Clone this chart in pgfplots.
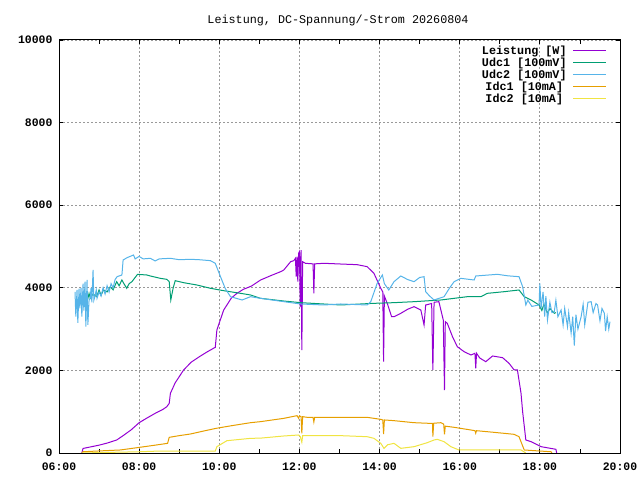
\documentclass[border=0pt]{standalone}
\usepackage{pgfplots}
\pgfplotsset{compat=1.18}
\usepackage{fontspec}
\setmainfont{Liberation Mono}
\definecolor{gpurple}{HTML}{9400D3}
\definecolor{ggreen}{HTML}{009E73}
\definecolor{gblue}{HTML}{56B4E9}
\definecolor{gorange}{HTML}{E69F00}
\definecolor{gyellow}{HTML}{F0E442}
\begin{document}
\begin{tikzpicture}
\useasboundingbox (0,0) rectangle (640bp,480bp);
\node[font=\fontsize{11.8}{12}\selectfont, anchor=center] at (338bp,459.5bp) {Leistung, DC-Spannung/-Strom 20260804};
\begin{axis}[
  at={(59bp,27bp)}, anchor=south west,
  scale only axis, width=561bp, height=413bp,
  xmin=6, xmax=20, ymin=0, ymax=10000,
  scaled y ticks=false,
  xtick={6,8,10,12,14,16,18,20},
  xticklabels={06:00,08:00,10:00,12:00,14:00,16:00,18:00,20:00},
  minor xtick={7,9,11,13,15,17,19},
  ytick={0,2000,4000,6000,8000,10000},
  yticklabels={0,2000,4000,6000,8000,10000},
  /pgf/number format/assume math mode=true,
  ticklabel style={font=\bfseries\fontsize{11.5}{12}\selectfont},
  yticklabel style={xshift=-3bp},
  xticklabel style={yshift=-6.5bp},
  major tick length=4bp, minor tick length=4bp,
  tick style={black, line width=0.8bp},
  axis line style={line width=1bp},
  grid=major,
  major grid style={draw=gray!80, dash pattern=on 1.5bp off 2.5bp, line width=0.8bp},
  legend plot pos=right,
  legend cell align=right,
  legend style={at={(0.9765,0.985)}, anchor=north east, draw=none, fill=none,
    font=\bfseries\fontsize{11.8}{12}\selectfont,
    nodes={inner sep=0pt, text height=8bp, text depth=2bp, anchor=base},
    row sep=2bp, column sep=6bp, inner sep=0pt},
  legend image code/.code={\draw[#1, line width=1bp] (0bp,3.5bp) -- (33bp,3.5bp);},
  every axis plot/.append style={line width=1bp},
]
\addplot[color=gpurple] coordinates {
(6.57,0) (6.6,110) (6.8,150) (7.0,190) (7.2,240) (7.44,315) (7.6,420) (7.8,560) (8.0,734) (8.2,850) (8.4,960) (8.6,1060) (8.69,1121) (8.75,1200) (8.78,1445) (8.9,1700) (9.11,2010) (9.3,2200) (9.5,2330) (9.7,2450) (9.9,2559) (9.94,2978) (10.11,3462) (10.3,3750) (10.44,3866) (10.6,3963) (10.8,4040) (11.03,4189) (11.3,4300) (11.53,4390) (11.61,4431) (11.78,4632) (11.86,4657) (11.9,4714) (11.92,4269) (11.94,4754) (11.96,4148) (11.98,4835) (12.0,4874) (12.02,3543) (12.04,4915) (12.06,2494) (12.08,4632) (12.15,4593) (12.34,4580) (12.36,3867) (12.38,4580) (12.61,4593) (13.03,4576) (13.44,4560) (13.69,4512) (13.86,4350) (14.03,3988) (14.08,3900) (14.1,2211) (14.12,3800) (14.2,3600) (14.3,3300) (14.36,3300) (14.53,3382) (14.7,3480) (14.86,3543) (15.03,3462) (15.11,3099) (15.15,3583) (15.3,3620) (15.33,2010) (15.36,3650) (15.48,3664) (15.59,3220) (15.62,1525) (15.64,3180) (15.69,3140) (15.82,2816) (15.94,2574) (16.11,2453) (16.28,2373) (16.38,2414) (16.4,2051) (16.42,2414) (16.5,2300) (16.65,2211) (16.82,2349) (17.07,2308) (17.23,2172) (17.36,2010) (17.44,2010) (17.53,1445) (17.57,1000) (17.65,315) (17.78,274) (18.03,153) (18.4,90) (18.42,0)
};
\addlegendentry{Leistung [W]}
\addplot[color=ggreen] coordinates {
(6.65,3705) (6.68,3850) (6.7,3650) (6.75,3866) (6.78,3750) (6.85,3850) (6.94,3785) (7.0,3950) (7.05,3820) (7.11,3947) (7.2,3900) (7.28,4027) (7.35,3950) (7.44,4148) (7.5,4050) (7.57,4189) (7.62,4100) (7.69,3988) (7.75,4100) (7.82,4148) (7.96,4326) (8.19,4310) (8.28,4286) (8.53,4229) (8.69,4205) (8.75,4150) (8.79,3705) (8.85,4000) (8.9,4172) (9.11,4124) (9.44,4068) (9.78,3988) (10.11,3930) (10.53,3866) (10.78,3826) (11.03,3745) (11.61,3680) (12.03,3640) (13.03,3584) (13.86,3624) (14.36,3640) (14.86,3664) (15.53,3705) (15.86,3745) (16.19,3785) (16.53,3785) (16.69,3866) (17.11,3906) (17.48,3947) (17.61,3785) (17.78,3705) (17.98,3584) (18.05,3450) (18.1,3600) (18.19,3382) (18.25,3500) (18.36,3382) (18.4,3400)
};
\addlegendentry{Udc1 [100mV]}
\addplot[color=gblue] coordinates {
(6.40,3900) (6.42,3300) (6.45,3950) (6.47,3150) (6.50,3980) (6.52,3500) (6.55,4000) (6.57,3300) (6.60,4100) (6.62,3450) (6.65,4150) (6.67,3060) (6.70,4190) (6.72,3100) (6.75,3700) (6.78,3750) (6.80,4000) (6.82,3650) (6.85,4431) (6.87,3700) (6.90,3800) (6.93,3950) (6.95,3750) (7.00,3900) (7.05,3800) (7.1,4000) (7.15,3850) (7.2,4050) (7.25,3900) (7.3,4100) (7.35,4000) (7.4,4200) (7.45,4270) (7.57,4310) (7.6,4673) (7.7,4730) (7.86,4794) (7.9,4700) (8.0,4760) (8.1,4700) (8.28,4714) (8.4,4650) (8.5,4700) (8.78,4714) (9.0,4680) (9.28,4690) (9.5,4680) (9.78,4657) (9.9,4593) (10.03,4269) (10.15,3980) (10.28,3785) (10.57,3705) (10.78,3785) (11.03,3745) (11.61,3664) (12.03,3608) (12.61,3584) (13.03,3608) (13.69,3584) (13.78,3664) (13.94,4108) (14.07,4310) (14.12,4100) (14.23,3947) (14.36,4148) (14.53,4286) (14.7,4200) (14.86,4148) (15.0,4250) (15.11,4269) (15.15,3906) (15.25,3800) (15.36,3705) (15.61,3785) (15.75,4000) (15.86,4148) (16.03,4229) (16.36,4189) (16.4,4286) (16.94,4326) (17.2,4290) (17.48,4269) (17.57,4027) (17.65,3584) (17.7,3700) (17.8,3550) (17.98,3584) (18.0,4108) (18.03,3500) (18.08,3900) (18.12,3300) (18.15,3800) (18.19,3220) (18.25,3650) (18.3,3400) (18.36,3421) (18.4,3700) (18.45,3300) (18.53,3462) (18.58,3100) (18.62,3500) (18.69,3058) (18.72,3400) (18.78,2900) (18.82,3300) (18.86,2600) (18.9,3350) (18.95,3000) (19.03,3300) (19.08,3600) (19.12,3100) (19.2,3650) (19.28,3664) (19.33,3400) (19.4,3620) (19.44,3584) (19.5,3200) (19.55,3500) (19.61,3382) (19.64,2950) (19.68,3300) (19.72,3000) (19.75,3180)
};
\addlegendentry{Udc2 [100mV]}
\addplot[color=gorange] coordinates {
(6.57,0) (6.6,30) (7.0,50) (7.53,73) (8.01,137) (8.4,190) (8.71,234) (8.75,379) (9.0,420) (9.28,460) (9.6,530) (9.92,597) (10.3,660) (10.78,734) (11.03,759) (11.61,839) (11.94,904) (11.98,840) (12.0,900) (12.04,880) (12.06,476) (12.08,880) (12.19,864) (12.34,864) (12.36,750) (12.38,864) (13.03,864) (13.69,864) (13.86,839) (14.03,815) (14.08,800) (14.1,460) (14.12,800) (14.36,783) (14.86,734) (15.2,720) (15.32,720) (15.33,395) (15.35,720) (15.53,734) (15.6,700) (15.62,450) (15.64,650) (15.86,622) (16.28,557) (16.38,540) (16.4,480) (16.42,540) (16.86,500) (17.36,452) (17.48,395) (17.61,73) (18.28,30) (18.3,0)
};
\addlegendentry{Idc1 [10mA]}
\addplot[color=gyellow] coordinates {
(6.57,0) (7.0,10) (8.0,30) (8.53,48) (9.9,48) (9.94,153) (10.19,298) (10.78,355) (11.03,360) (11.61,412) (11.98,436) (12.02,400) (12.06,260) (12.08,420) (12.19,420) (13.03,420) (13.69,395) (13.86,355) (14.03,234) (14.11,113) (14.2,200) (14.36,234) (14.53,113) (14.86,153) (15.19,250) (15.36,315) (15.44,331) (15.61,274) (15.78,153) (15.98,73) (16.7,73) (17.53,73) (17.65,0)
};
\addlegendentry{Idc2 [10mA]}
\end{axis}
\end{tikzpicture}
\end{document}
